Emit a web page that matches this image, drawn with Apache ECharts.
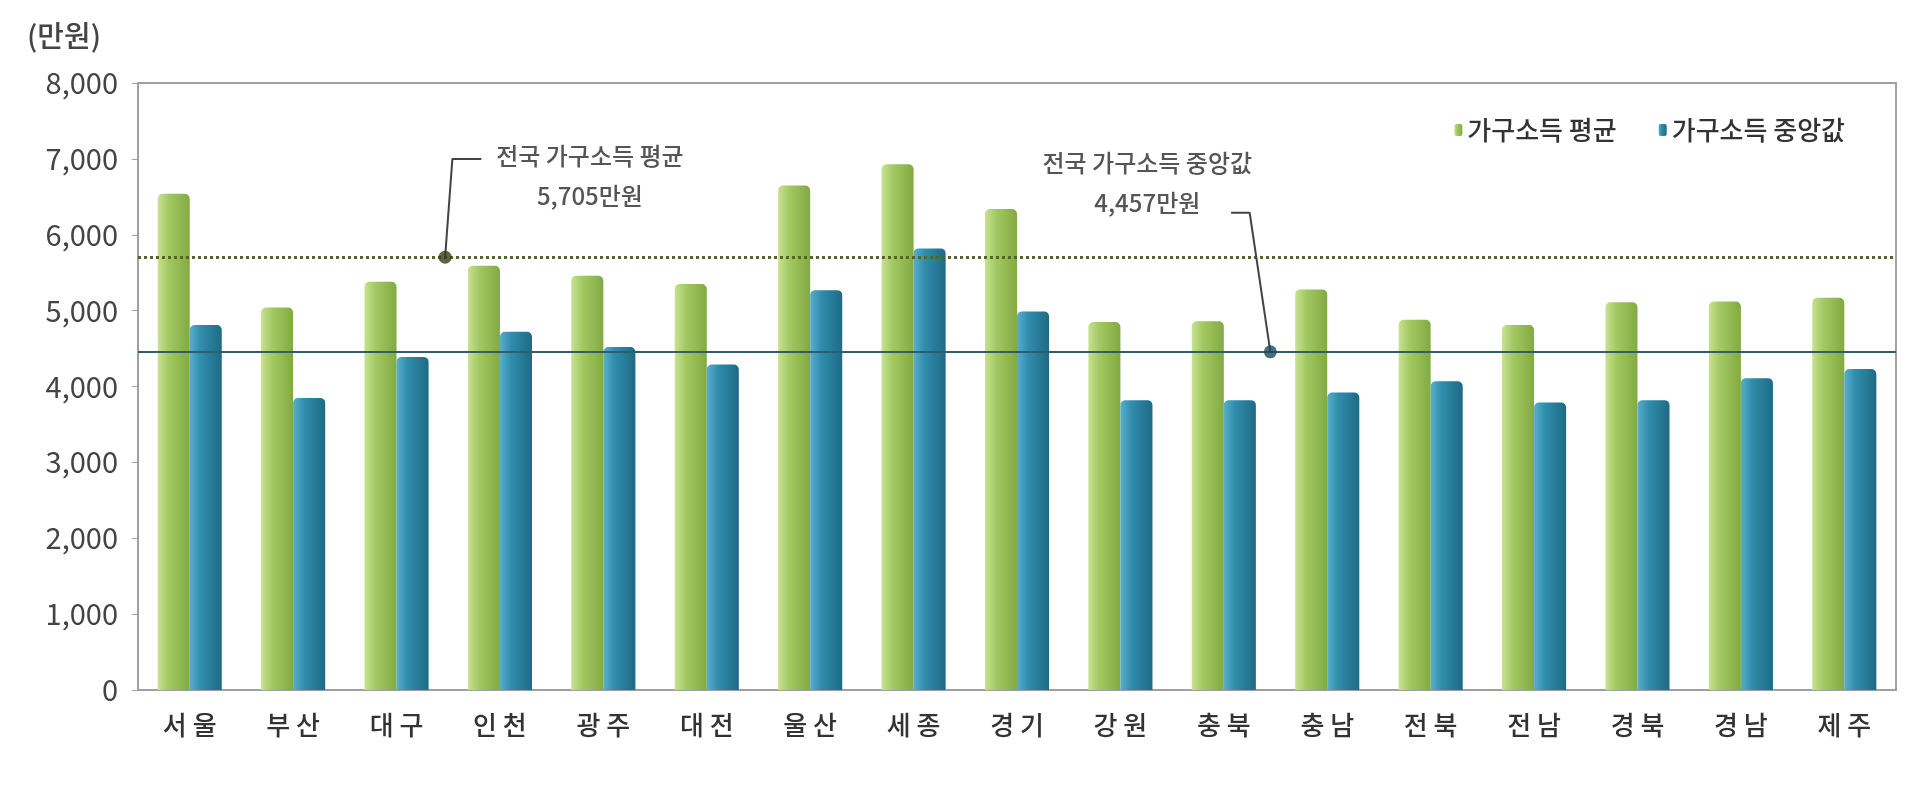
<!DOCTYPE html>
<html>
<head>
<meta charset="utf-8">
<script src="https://cdn.jsdelivr.net/npm/echarts@6/dist/echarts.min.js"></script>
<style>
  html, body { margin: 0; padding: 0; background: #fff; }
  #chart { width: 1920px; height: 786px; }
</style>
</head>
<body>
<div id="chart"></div>
<script>
// 지역별 가구소득 (만원)
const regions = ['서울', '부산', '대구', '인천', '광주', '대전', '울산', '세종', '경기',
    '강원', '충북', '충남', '전북', '전남', '경북', '경남', '제주'];
const meanIncome = [6540, 5040, 5380, 5590, 5460, 5350, 6650, 6930, 6340,
    4850, 4860, 5280, 4880, 4810, 5110, 5120, 5170];
const medianIncome = [4810, 3850, 4390, 4720, 4520, 4290, 5270, 5820, 4990,
    3820, 3820, 3920, 4070, 3790, 3820, 4110, 4230];
const nationalMean = 5705;
const nationalMedian = 4457;
const yTicks = [0, 1000, 2000, 3000, 4000, 5000, 6000, 7000, 8000];

// annotation anchors (x in category units on a hidden value axis)
const meanNote = { dot: [2.97, nationalMean], bend: [3.04, 7000], end: [3.32, 7000], text: [4.37, 6770] };
const medianNote = { dot: [10.95, nationalMedian], bend: [10.75, 6290], end: [10.57, 6290], text: [9.76, 6680] };

const chart = echarts.init(document.getElementById('chart'));
const font = '"Noto Sans CJK KR", "Noto Sans", sans-serif';

function grad(c0, c1, c2) {
    return new echarts.graphic.LinearGradient(0, 0, 1, 0, [
        { offset: 0, color: c0 },
        { offset: 0.35, color: c1 },
        { offset: 1, color: c2 }
    ]);
}

const options = {
    backgroundColor: '#fff',
    textStyle: { fontFamily: font },
    title: {
        text: '(만원)',
        left: 22,
        top: 16,
        textStyle: { fontFamily: font, fontSize: 29, fontWeight: 500, color: '#444' }
    },
    legend: {
        data: ['가구소득 평균', '가구소득 중앙값'],
        right: 70,
        top: 112,
        itemWidth: 8,
        itemHeight: 12,
        itemGap: 42,
        textStyle: { fontFamily: font, fontSize: 26, fontWeight: 500, color: '#333' }
    },
    grid: {
        left: 138,
        right: 24,
        top: 83,
        bottom: 96,
        show: true,
        borderColor: '#a0a0a0',
        borderWidth: 2
    },
    xAxis: [{
        type: 'category',
        data: regions,
        axisLine: { lineStyle: { color: '#a0a0a0', width: 2 } },
        axisTick: { show: false },
        axisLabel: {
            fontFamily: font,
            fontSize: 26,
            fontWeight: 500,
            color: '#333',
            margin: 22,
            formatter: v => v.split('').join(' ')
        }
    }, {
        type: 'value',
        min: 0,
        max: regions.length,
        show: false
    }],
    yAxis: {
        type: 'value',
        min: yTicks[0],
        max: yTicks[yTicks.length - 1],
        interval: 1000,
        axisLine: { show: true, lineStyle: { color: '#a0a0a0', width: 2 } },
        axisTick: { show: true, length: 6, lineStyle: { color: '#a0a0a0' } },
        splitLine: { show: false },
        axisLabel: {
            fontFamily: font,
            fontSize: 29,
            color: '#444',
            margin: 20,
            formatter: v => v.toLocaleString('en-US')
        }
    },
    series: [
        {
            name: '가구소득 평균',
            type: 'bar',
            data: meanIncome,
            barGap: '0%',
            barCategoryGap: '38%',
            itemStyle: {
                color: grad('#c8e292', '#a2c862', '#82aa42'),
                borderRadius: [5, 5, 0, 0]
            },
            markLine: {
                silent: true,
                symbol: 'none',
                label: { show: false },
                lineStyle: { type: 'dotted', color: '#56642a', width: 3 },
                data: [{ yAxis: nationalMean }]
            }
        },
        {
            name: '가구소득 중앙값',
            type: 'bar',
            data: medianIncome,
            itemStyle: {
                color: grad('#5aaecb', '#2f8dab', '#1f6a85'),
                borderRadius: [5, 5, 0, 0]
            },
            markLine: {
                silent: true,
                symbol: 'none',
                label: { show: false },
                lineStyle: { type: 'solid', color: '#2f5e6a', width: 2 },
                data: [{ yAxis: nationalMedian }]
            }
        },
        {
            type: 'line',
            xAxisIndex: 1,
            silent: true,
            showSymbol: false,
            data: [meanNote.dot, meanNote.bend, meanNote.end],
            lineStyle: { color: '#444', width: 2 },
            z: 5
        },
        {
            type: 'line',
            xAxisIndex: 1,
            silent: true,
            showSymbol: false,
            data: [medianNote.dot, medianNote.bend, medianNote.end],
            lineStyle: { color: '#444', width: 2 },
            z: 5
        },
        {
            type: 'scatter',
            xAxisIndex: 1,
            silent: true,
            symbolSize: 13,
            data: [
                { value: meanNote.dot, itemStyle: { color: '#333d16' } },
                { value: medianNote.dot, itemStyle: { color: '#1b4a58' } }
            ],
            z: 6
        },
        {
            type: 'scatter',
            xAxisIndex: 1,
            silent: true,
            symbolSize: 0,
            data: [
                { value: meanNote.text, label: { formatter: '전국 가구소득 평균\n' + nationalMean.toLocaleString('en-US') + '만원' } },
                { value: medianNote.text, label: { formatter: '전국 가구소득 중앙값\n' + nationalMedian.toLocaleString('en-US') + '만원' } }
            ],
            label: {
                show: true,
                position: 'inside',
                fontFamily: font,
                fontSize: 24,
                fontWeight: 500,
                lineHeight: 40,
                color: '#2a2a2a',
                align: 'center'
            },
            z: 6
        }
    ]
};

chart.setOption(options);
window.addEventListener('resize', () => chart.resize());
</script>
</body>
</html>
